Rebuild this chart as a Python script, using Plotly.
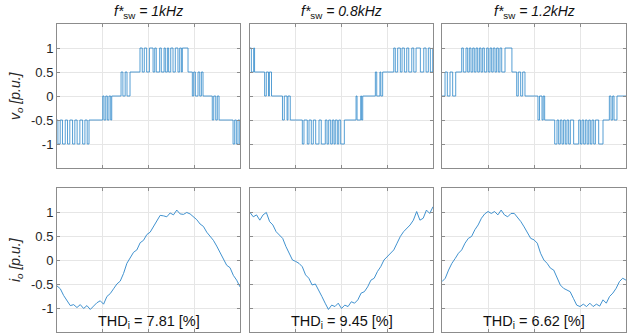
import plotly.graph_objects as go
import numpy as np

# ---------------- data ----------------
titles = ["1kHz", "0.8kHz", "1.2kHz"]
thd_values = ["7.81", "9.45", "6.62"]
y_ticks = [-1, -0.5, 0, 0.5, 1]
y_tick_text = ["-1", "-0.5", "0", "0.5", "1"]
x_ticks = [5, 10, 15]

# output voltage: start level, first-edge direction of each PWM band, edge times (ms)
v1_start = -0.5
v1_dirs = [-1, 1, 1, 1, -1, -1, -1]
v1_bands = [
    [0.1, 0.35, 0.6, 0.9, 1.15, 1.4, 1.7, 1.95, 2.2, 2.5, 2.8, 3.05, 3.3, 3.5],
    [5.0, 5.14, 5.33, 5.5, 5.68, 5.87, 5.98],
    [7.0, 7.2, 7.45, 7.65, 7.98],
    [9.07, 9.32, 9.54, 9.8, 10.1, 10.5, 10.68, 10.85, 11.22, 11.4, 11.7, 11.84,
     12.06, 12.2, 12.43, 12.68, 12.93, 13.22, 13.41, 13.59, 13.7, 14.32],
    [14.79, 14.94, 15.12, 15.41, 15.6, 15.78, 15.96],
    [16.97, 17.13, 17.35, 17.52, 17.71],
    [19.24, 19.42, 19.6, 19.78, 19.97],
]

v2_start = 1.0
v2_dirs = [-1, -1, -1, -1, 1, 1, 1]
v2_bands = [
    [0.15, 0.4, 0.5],
    [1.6, 1.78, 2.02, 2.12, 2.35],
    [3.55, 3.75, 4.05, 4.15, 4.4],
    [5.72, 5.9, 6.26, 6.45, 6.7, 6.92, 7.18, 7.54, 7.79, 8.23, 8.42, 8.6, 8.82,
     9.0, 9.18, 9.32, 9.54, 9.7, 9.91, 10.31],
    [11.59, 11.7, 12.1, 12.2, 12.32],
    [13.7, 13.85, 14.2, 14.3, 14.5],
    [15.71, 15.88, 16.14, 16.43, 16.62, 16.87, 17.13, 17.35, 17.68, 17.9, 18.15,
     18.62, 18.99, 19.24, 19.49, 19.71, 19.97],
]

v3_start = 0.0
v3_dirs = [1, 1, -1, -1, -1, 1]
v3_bands = [
    [0.33, 0.58, 0.87, 1.16, 1.49],
    [2.14, 2.32, 2.61, 2.79, 2.97, 3.15, 3.34, 3.51, 3.70, 3.88, 4.06, 4.24, 4.42,
     4.6, 4.86, 5.03, 5.22, 5.4, 5.57, 5.76, 5.94, 6.12, 6.3, 6.49, 6.85, 7.6],
    [8.12, 8.29, 8.55, 8.77, 9.02],
    [10.43, 10.6, 10.87, 11.0, 11.16],
    [12.25, 12.5, 12.68, 12.86, 13.04, 13.22, 13.4, 13.58, 13.77, 13.95, 14.31,
     14.86, 15.04, 15.22, 15.4, 15.58, 15.77, 15.95, 16.12, 16.3, 16.49, 16.67,
     17.03, 17.5],
    [18.19, 18.37, 18.55, 18.7, 19.02],
]

# output current samples (p.u.), evenly spaced over the 20 ms window
i1 = [-0.54, -0.60, -0.74, -0.86, -0.95, -0.93, -0.99, -0.93, -1.01, -0.95, -1.03,
      -0.96, -0.89, -0.85, -0.92, -0.76, -0.70, -0.60, -0.50, -0.44, -0.28, -0.07,
      0.06, 0.16, 0.21, 0.36, 0.41, 0.53, 0.58, 0.70, 0.82, 0.93, 0.92, 0.90, 0.98,
      0.94, 1.04, 0.96, 0.95, 0.99, 0.96, 0.90, 0.84, 0.75, 0.70, 0.58, 0.50, 0.41,
      0.29, 0.16, 0.04, -0.11, -0.16, -0.32, -0.42, -0.56]
i2 = [0.99, 0.90, 0.94, 0.83, 0.94, 0.99, 0.80, 0.73, 0.59, 0.52, 0.45, 0.28, 0.14,
      0.0, -0.03, -0.07, -0.14, -0.31, -0.38, -0.52, -0.50, -0.62, -0.76, -0.90,
      -1.03, -0.94, -0.97, -0.90, -1.01, -0.94, -0.97, -0.87, -0.90, -0.83, -0.69,
      -0.66, -0.56, -0.42, -0.38, -0.24, -0.14, 0.0, 0.07, 0.14, 0.21, 0.35, 0.49,
      0.59, 0.66, 0.73, 0.83, 1.01, 0.83, 0.87, 1.04, 0.97, 1.11]
i3 = [-0.45, -0.38, -0.21, -0.07, 0.03, 0.14, 0.21, 0.35, 0.45, 0.49, 0.63, 0.73,
      0.87, 0.96, 1.01, 0.97, 1.01, 0.94, 1.04, 0.94, 0.90, 0.97, 0.97, 0.89, 0.80,
      0.69, 0.56, 0.45, 0.42, 0.35, 0.14, 0.0, -0.07, -0.17, -0.21, -0.38, -0.52,
      -0.59, -0.62, -0.66, -0.80, -0.94, -0.97, -0.92, -0.97, -0.90, -0.97, -0.92,
      -0.96, -0.83, -0.90, -0.76, -0.69, -0.59, -0.45, -0.38, -0.42]

T_END = 20.0

# ---------------- layout geometry ----------------
W, H = 627, 336
col_px = [(57, 240), (250, 433), (442, 626)]
row_px = [(24, 168), (188, 332)]
LINE = "#2b86c9"
AX = "#8c8c8c"
TXT = "#262626"
FONT = "Liberation Sans, Arial, sans-serif"


def build_pwm(start, dirs, bands):
    xs, ys = [0.0], [start]
    lvl = start
    for d, edges in zip(dirs, bands):
        step = d * 0.5
        for t in edges:
            lvl = lvl + step
            xs.append(t)
            ys.append(lvl)
            step = -step
    xs.append(T_END)
    ys.append(lvl)
    return xs, ys


fig = go.Figure()
volt = [(v1_start, v1_dirs, v1_bands), (v2_start, v2_dirs, v2_bands), (v3_start, v3_dirs, v3_bands)]
curr = [i1, i2, i3]

annotations = []
for r in range(2):
    for c in range(3):
        k = r * 3 + c + 1
        xa = "x" if k == 1 else f"x{k}"
        ya = "y" if k == 1 else f"y{k}"
        if r == 0:
            xs, ys = build_pwm(*volt[c])
            fig.add_trace(go.Scatter(x=xs, y=ys, mode="lines", line=dict(color=LINE, width=0.8, shape="hv"),
                                     xaxis=xa, yaxis=ya, showlegend=False, hoverinfo="skip"))
        else:
            vals = curr[c]
            ts = np.linspace(0, T_END, len(vals))
            fig.add_trace(go.Scatter(x=ts, y=vals, mode="lines", line=dict(color=LINE, width=0.9),
                                     xaxis=xa, yaxis=ya, showlegend=False, hoverinfo="skip"))
        x0, x1 = col_px[c]
        y0, y1 = row_px[r]
        fig.layout[f"xaxis{'' if k == 1 else k}"] = dict(
            domain=[x0 / W, x1 / W], range=[0, T_END], anchor=ya,
            tickvals=x_ticks, showticklabels=False, ticks="inside", ticklen=3, tickcolor=AX,
            showgrid=True, gridcolor="#e6e6e6", gridwidth=1, zeroline=False,
            showline=True, linecolor=AX, linewidth=1, mirror="ticks")
        fig.layout[f"yaxis{'' if k == 1 else k}"] = dict(
            domain=[1 - y1 / H, 1 - y0 / H], range=[-1.5, 1.5], anchor=xa,
            tickvals=y_ticks, ticktext=y_tick_text, showticklabels=(c == 0),
            ticks="inside", ticklen=3, tickcolor=AX,
            tickfont=dict(family=FONT, size=13, color=TXT),
            showgrid=True, gridcolor="#e6e6e6", gridwidth=1, zeroline=False,
            showline=True, linecolor=AX, linewidth=1, mirror="ticks")
        xc = (x0 + x1) / 2 / W
        if r == 0:
            annotations.append(dict(
                text=f"<i>f*</i><sub>sw</sub><i> = {titles[c]}</i>",
                x=xc, y=1 - 12 / H, xref="paper", yref="paper", showarrow=False,
                xanchor="center", yanchor="middle",
                font=dict(family=FONT, size=14, color="#111111")))
        else:
            annotations.append(dict(
                text=f"THD<sub>i</sub> = {thd_values[c]} [%]",
                x=xc, y=1 - 322 / H, xref="paper", yref="paper", showarrow=False,
                xanchor="center", yanchor="middle",
                font=dict(family=FONT, size=14.5, color="#111111")))

annotations.append(dict(text="<i>v<sub>o</sub> [p.u.]</i>", x=16 / W, y=1 - 96 / H, xref="paper", yref="paper",
                        showarrow=False, textangle=-90, xanchor="center", yanchor="middle",
                        font=dict(family=FONT, size=14, color=TXT)))
annotations.append(dict(text="<i>i<sub>o</sub> [p.u.]</i>", x=16 / W, y=1 - 260 / H, xref="paper", yref="paper",
                        showarrow=False, textangle=-90, xanchor="center", yanchor="middle",
                        font=dict(family=FONT, size=14, color=TXT)))

fig.update_layout(width=W, height=H, margin=dict(l=0, r=0, t=0, b=0),
                  paper_bgcolor="white", plot_bgcolor="white", annotations=annotations)

fig.write_html("out.html")
